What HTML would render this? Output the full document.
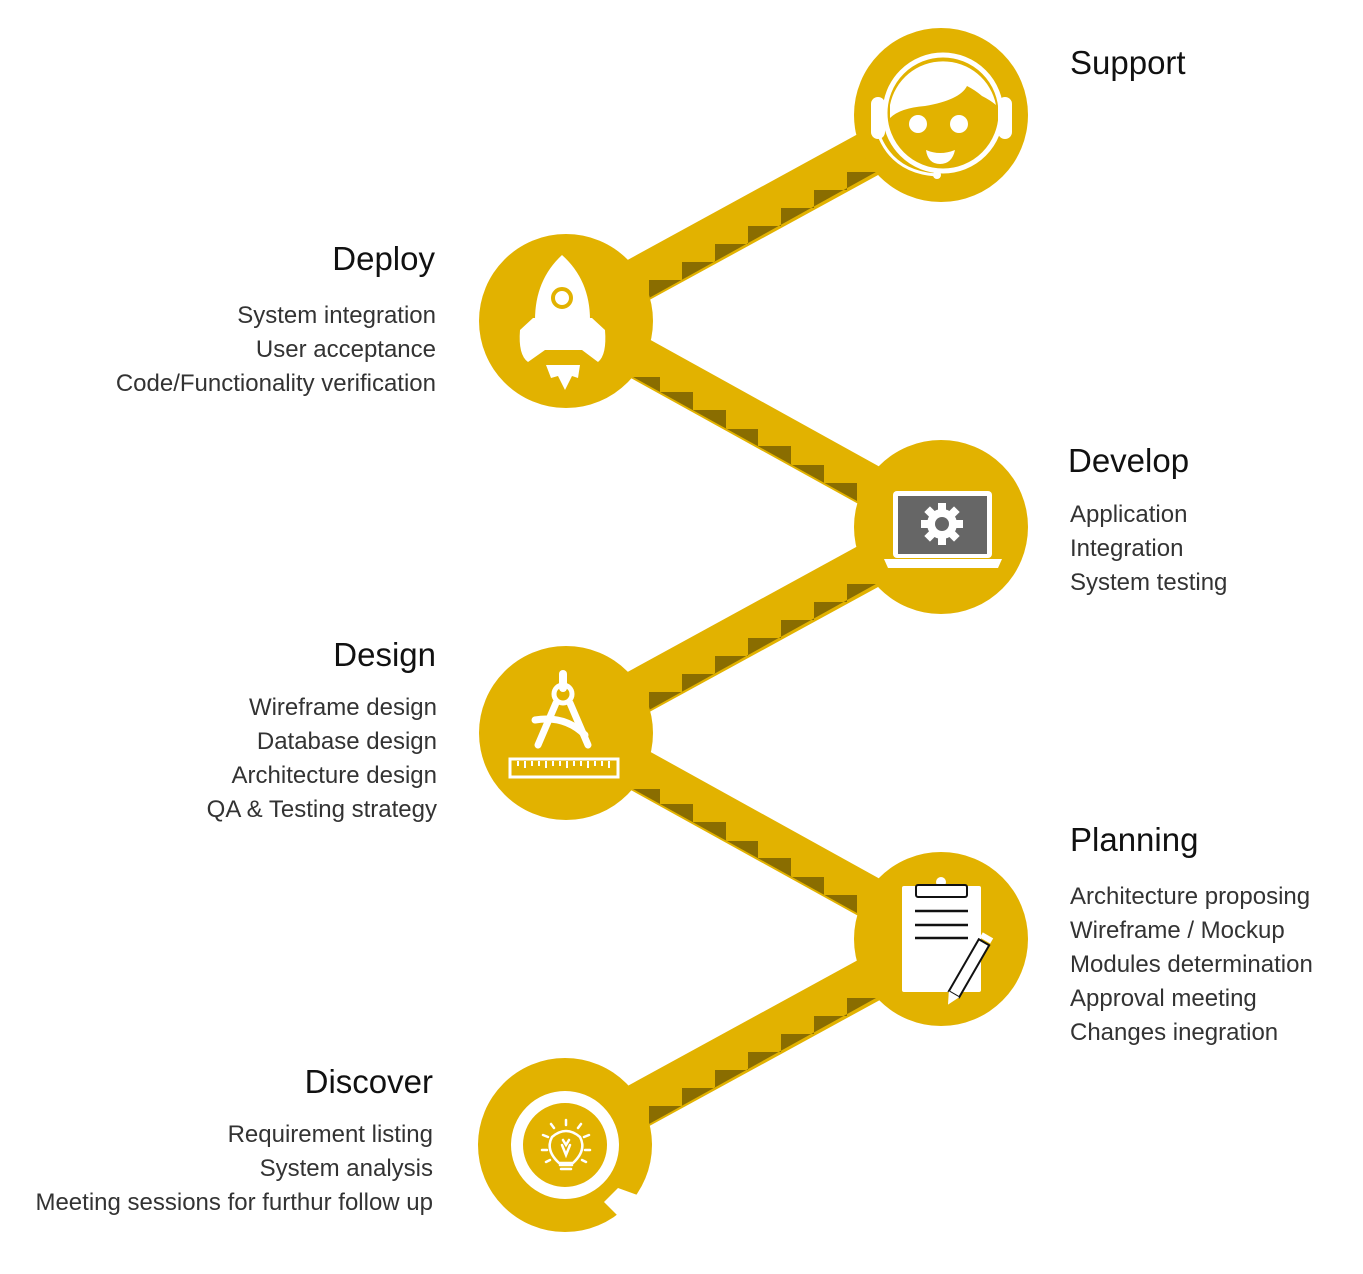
<!DOCTYPE html>
<html><head><meta charset="utf-8"><style>
html,body{margin:0;padding:0;background:#fff;}
body{width:1363px;height:1274px;position:relative;overflow:hidden;font-family:"Liberation Sans",sans-serif;}
svg{position:absolute;left:0;top:0;}
.t{position:absolute;font-size:33px;color:#111;line-height:1;white-space:nowrap;}
.i{position:absolute;font-size:24px;color:#333;line-height:34px;white-space:nowrap;}
.r{text-align:right;}
</style></head><body>
<svg width="1363" height="1274" viewBox="0 0 1363 1274">
<defs>
<g id="up">
<polygon points="600,275 900,111 900,163 600,327" fill="#E2B200"/>
<polygon points="649,298 649,280 682,280 682,262 715,262 715,244 748,244 748,226 781,226 781,208 814,208 814,190 847,190 847,172 876,172" fill="#8A6D00"/>
</g>
<g id="down">
<polygon points="600,312 900,478 900,527 600,361" fill="#E2B200"/>
<polygon points="633,377 660,377 660,392 693,392 693,410 726,410 726,429 758,429 758,446 791,446 791,465 824,465 824,483 857,483 857,501" fill="#8A6D00"/>
</g>
</defs>
<use href="#up"/>
<use href="#up" transform="translate(0,412)"/>
<use href="#up" transform="translate(0,826)"/>
<use href="#down"/>
<use href="#down" transform="translate(0,412)"/>
<g fill="#E2B200">
<circle cx="941" cy="115" r="87"/>
<circle cx="566" cy="321" r="87"/>
<circle cx="941" cy="527" r="87"/>
<circle cx="566" cy="733" r="87"/>
<circle cx="941" cy="939" r="87"/>
<circle cx="565" cy="1145" r="87"/>
</g>
<!-- Support icon -->
<g>
<circle cx="943" cy="113" r="58" fill="none" stroke="#fff" stroke-width="5"/>
<path d="M890,105 A54,54 0 0 1 996,105 Q990,100 982,96 Q975,90 967,86 Q960,100 925,106 Q900,108 890,118 Z" fill="#fff"/>
<rect x="871" y="97" width="14" height="42" rx="7" fill="#fff"/>
<rect x="998" y="97" width="14" height="42" rx="7" fill="#fff"/>
<circle cx="918" cy="124" r="9" fill="#fff"/>
<circle cx="959" cy="124" r="9" fill="#fff"/>
<path d="M926,150 Q940,156 955,150 Q952,164 940,164 Q928,164 926,150 Z" fill="#fff"/>
<path d="M880,138 Q895,172 936,175" fill="none" stroke="#fff" stroke-width="3"/>
<circle cx="937" cy="175" r="4" fill="#fff"/>
</g>
<!-- Rocket -->
<g fill="#fff">
<path d="M562,255 Q535,280 535,320 L535,345 L590,345 L590,320 Q590,280 562,255 Z"/>
<path d="M533,318 L520,330 Q518,355 528,362 L545,350 L582,350 L598,362 Q607,355 605,330 L592,318 Z"/>
<path d="M546,365 L580,365 L578,378 L572,376 L565,390 L558,376 L551,378 Z"/>
</g>
<circle cx="562" cy="298" r="9" fill="none" stroke="#E2B200" stroke-width="4"/>
<!-- Laptop -->
<rect x="893" y="491" width="99" height="67" rx="4" fill="#fff"/>
<rect x="898" y="496" width="89" height="58" fill="#666"/>
<path d="M884,559 L1002,559 L998,568 L888,568 Z" fill="#fff"/>
<g transform="translate(942,524)">
<circle r="15" fill="#fff"/>
<g fill="#fff">
<rect x="-4" y="-21" width="8" height="42"/>
<rect x="-4" y="-21" width="8" height="42" transform="rotate(45)"/>
<rect x="-4" y="-21" width="8" height="42" transform="rotate(90)"/>
<rect x="-4" y="-21" width="8" height="42" transform="rotate(135)"/>
</g>
<circle r="7" fill="#666"/>
</g>
<!-- Design -->
<g fill="none" stroke="#fff" stroke-linecap="round">
<line x1="563" y1="674" x2="563" y2="688" stroke-width="8"/>
<circle cx="563" cy="694" r="9" stroke-width="5"/>
<line x1="556" y1="703" x2="538" y2="745" stroke-width="7"/>
<line x1="570" y1="703" x2="588" y2="745" stroke-width="7"/>
<path d="M535,720 Q565,715 585,735" stroke-width="7"/>
<rect x="510" y="759" width="108" height="18" stroke-width="3" stroke-linecap="butt"/>
</g>
<g stroke="#fff" stroke-width="2">
<path d="M518,761v5M525,761v7M532,761v5M539,761v5M546,761v7M553,761v5M560,761v5M567,761v7M574,761v5M581,761v5M588,761v7M595,761v5M602,761v5M609,761v7"/>
</g>
<!-- Planning -->
<rect x="902" y="886" width="79" height="106" rx="2" fill="#fff"/>
<circle cx="941" cy="882" r="5" fill="#fff"/>
<rect x="916" y="885" width="51" height="12" rx="2" fill="#fff" stroke="#111" stroke-width="2"/>
<g stroke="#111" stroke-width="2.5">
<line x1="915" y1="911" x2="968" y2="911"/>
<line x1="915" y1="925" x2="968" y2="925"/>
<line x1="915" y1="938" x2="968" y2="938"/>
</g>
<g transform="translate(968,970) rotate(30)">
<rect x="-6" y="-32" width="12" height="60" fill="#fff" stroke="#111" stroke-width="2"/>
<path d="M-6,28 L6,28 L0,40 Z" fill="#fff"/>
<rect x="-6" y="-40" width="12" height="6" fill="#fff"/>
</g>
<!-- Discover -->
<circle cx="565" cy="1145" r="48" fill="none" stroke="#fff" stroke-width="12"/>
<polygon points="604,1202 618,1188 640,1196 624,1222" fill="#fff"/>
<g fill="none" stroke="#fff" stroke-width="2.5" stroke-linecap="round">
<path d="M559,1163 Q545,1150 552,1137 Q566,1125 580,1137 Q587,1150 573,1163 Z"/>
<path d="M560,1165 h12 M561,1169 h10"/>
<path d="M562,1145 L566,1155 L570,1145 M563,1140 L566,1145 L569,1140"/>
<path d="M566,1120v5 M551,1124l3,4 M581,1124l-3,4 M543,1135l5,2 M589,1135l-5,2 M542,1150h5 M590,1150h-5 M546,1162l4,-2 M586,1162l-4,-2"/>
</g>
</svg>

<div class="t" style="left:1070px;top:46px;">Support</div>

<div class="t r" style="right:928px;top:242px;">Deploy</div>
<div class="i r" style="right:927px;top:299px;">System integration<br>User acceptance<br>Code/Functionality verification</div>

<div class="t" style="left:1068px;top:444px;">Develop</div>
<div class="i" style="left:1070px;top:498px;">Application<br>Integration<br>System testing</div>

<div class="t r" style="right:927px;top:638px;">Design</div>
<div class="i r" style="right:926px;top:691px;">Wireframe design<br>Database design<br>Architecture design<br>QA &amp; Testing strategy</div>

<div class="t" style="left:1070px;top:823px;">Planning</div>
<div class="i" style="left:1070px;top:880px;">Architecture proposing<br>Wireframe / Mockup<br>Modules determination<br>Approval meeting<br>Changes inegration</div>

<div class="t r" style="right:930px;top:1065px;">Discover</div>
<div class="i r" style="right:930px;top:1118px;">Requirement listing<br>System analysis<br>Meeting sessions for furthur follow up</div>
</body></html>
